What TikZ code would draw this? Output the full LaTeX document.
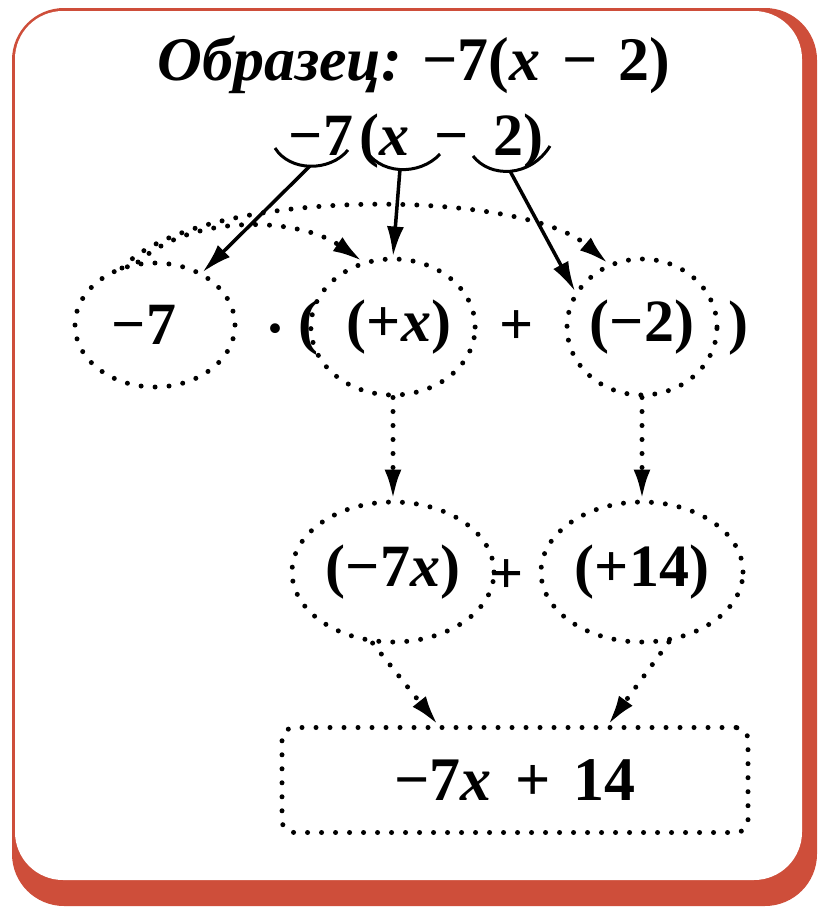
\documentclass[tikz,border=0pt]{standalone}
\usepackage{fontspec}
\setmainfont{Liberation Serif}
\usetikzlibrary{shapes.geometric,arrows.meta}
\definecolor{framered}{RGB}{206,78,58}
\tikzset{
  dots/.style={line width=5pt, dash pattern=on 0pt off 14pt, line cap=round},
  bigfont/.style={font=\fontsize{60}{64}\selectfont\bfseries},
  oval/.style={ellipse, draw, dots, inner sep=0pt, bigfont},
  txt/.style={inner sep=0pt, bigfont},
  tipstyle/.style={-{Latex[length=30pt,width=17pt]}},
  solidarrow/.style={line width=3.5pt, tipstyle},
  dotarrow/.style={dots, tipstyle},
  smile/.style={line width=3pt},
}
\begin{document}
\begin{tikzpicture}[x=1pt,y=-1pt]
\useasboundingbox (0,0) rectangle (817,916);
\fill[white] (0,0) rectangle (817,916);
% frame
\fill[framered, rounded corners=52pt] (12,8) rectangle (817,906);
\fill[white, rounded corners=48pt] (15,11) rectangle (802,880);

% title and expression
\node[txt, anchor=base, font=\fontsize{62}{66}\selectfont\bfseries] (title) at (414,80) {{\itshape Образец:} −7(\textit{x}\hspace{6pt} −\hspace{6pt} 2)};
\node[txt, anchor=base] (expr) at (416,155) {−7\hspace{6pt}(\textit{x}\hspace{10pt} −\hspace{10pt} 2)};

% smile arcs
\draw[smile] (275,148) .. controls (290,172) and (330,172) .. (348,150);
\draw[smile] (363,146) .. controls (378,176) and (420,176) .. (440,154);
\draw[smile] (473,156) .. controls (490,178) and (530,178) .. (550,146);
\coordinate (a1) at (310,166);
\coordinate (a2) at (400,169);
\coordinate (a3) at (510,171);

% row 2
\node[oval, minimum width=160pt, minimum height=124pt] (m7) at (155,325) {−7\hspace*{22pt}};
\node[txt] (dot) at (276,336) {·};
\node[txt] (lp) at (308,328) {(};
\node[oval, minimum width=150pt, minimum height=136pt] (px) at (393,327) {\hspace*{12pt}(+\textit{x})};
\node[txt] (plus1) at (517,328) {+};
\node[oval, minimum width=150pt, minimum height=136pt] (m2) at (642,327) {(−2)};
\node[txt] (rp) at (738,328) {)};

% row 3
\node[oval, minimum width=202pt, minimum height=140pt] (r7x) at (393,572) {(−7\textit{x})};
\node[txt] (plus2) at (507,577) {+};
\node[oval, minimum width=202pt, minimum height=140pt] (p14) at (642,572) {(+14)};

% result
\node[draw, dots, rounded corners=12pt, minimum width=466pt, minimum height=105pt,
      inner sep=0pt, font=\fontsize{62}{66}\selectfont\bfseries] (res) at (515,780) {−7\textit{x}\hspace{8pt} +\hspace{8pt} 14};

% solid arrows
\draw[solidarrow] (a1) -- (m7.48);
\draw[solidarrow] (a2) -- (px.north);
\draw[solidarrow] (a3) -- (m2.152);

% dotted arcs
\coordinate (s1) at (138,262);
\coordinate (s2) at (122,268);
\draw[dotarrow] (s1) .. controls (195,212) and (300,218) .. (px.115);
\draw[dotarrow] (s2) .. controls (200,186) and (520,188) .. (m2.118);

% dotted down arrows
\draw[dotarrow] (px.south) -- (r7x.north);
\draw[dotarrow] (m2.south) -- (p14.north);
\draw[dotarrow] (r7x.-106) -- ([xshift=-77pt]res.north);
\draw[dotarrow] (p14.-69) -- ([xshift=93pt]res.north);
\end{tikzpicture}
\end{document}
